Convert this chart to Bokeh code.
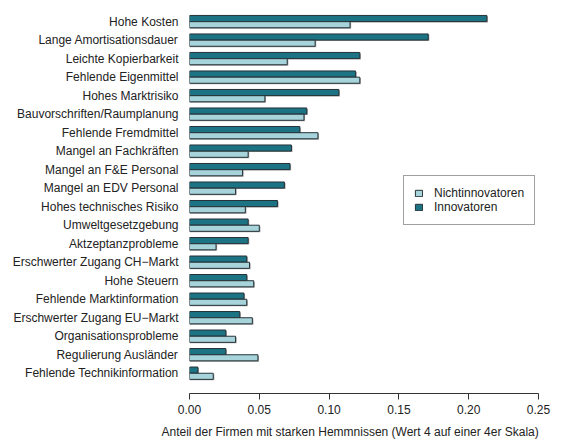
from bokeh.plotting import figure
from bokeh.models import (ColumnDataSource, Range1d, FixedTicker, NumeralTickFormatter,
                          Legend, LegendItem, Title)
from bokeh.transform import dodge
from bokeh.embed import file_html
from bokeh.resources import INLINE

categories = [
    "Hohe Kosten", "Lange Amortisationsdauer", "Leichte Kopierbarkeit",
    "Fehlende Eigenmittel", "Hohes Marktrisiko", "Bauvorschriften/Raumplanung",
    "Fehlende Fremdmittel", "Mangel an Fachkräften", "Mangel an F&E Personal",
    "Mangel an EDV Personal", "Hohes technisches Risiko", "Umweltgesetzgebung",
    "Aktzeptanzprobleme", "Erschwerter Zugang CH\u2212Markt", "Hohe Steuern",
    "Fehlende Marktinformation", "Erschwerter Zugang EU\u2212Markt",
    "Organisationsprobleme", "Regulierung Ausländer", "Fehlende Technikinformation",
]
innovatoren = [0.213, 0.171, 0.122, 0.119, 0.107, 0.084, 0.079, 0.073, 0.072, 0.068,
               0.063, 0.042, 0.042, 0.041, 0.041, 0.039, 0.036, 0.026, 0.026, 0.006]
nichtinnovatoren = [0.115, 0.090, 0.070, 0.122, 0.054, 0.082, 0.092, 0.042, 0.038, 0.033,
                    0.040, 0.050, 0.019, 0.043, 0.046, 0.041, 0.045, 0.033, 0.049, 0.017]
x_ticks = [0.0, 0.05, 0.10, 0.15, 0.20, 0.25]
x_title = "Anteil der Firmen mit starken Hemmnissen (Wert 4 auf einer 4er Skala)"

n = len(categories)
ypos = list(range(n - 1, -1, -1))
shadow = 0.0008
src = ColumnDataSource(dict(
    y=ypos, innov=innovatoren, nicht=nichtinnovatoren,
    innov_s=[v + shadow for v in innovatoren],
    nicht_s=[v + shadow for v in nichtinnovatoren],
))

DARK = "#1b7384"
LIGHT = "#a7d4da"
TEXT = "#222222"
FONT = "Arial"

p = figure(width=565, height=445, output_backend="svg", toolbar_location=None,
           x_range=Range1d(0, 0.25), y_range=Range1d(-1.097, n - 1 + 0.6),
           min_border_left=189, min_border_right=27, min_border_top=10, min_border_bottom=20)
p.outline_line_color = None
p.grid.visible = False
p.background_fill_color = "white"

bh = 0.33
off = 0.168
# shadows
p.hbar(y=dodge("y", off - 0.05, range=p.y_range), left=0, right="innov_s", height=bh,
       source=src, fill_color="#8c8c8c", line_color=None, fill_alpha=0.8)
p.hbar(y=dodge("y", -off - 0.05, range=p.y_range), left=0, right="nicht_s", height=bh,
       source=src, fill_color="#8c8c8c", line_color=None, fill_alpha=0.8)
r_in = p.hbar(y=dodge("y", off, range=p.y_range), left=0, right="innov", height=bh,
              source=src, fill_color=DARK, line_color="#263238", line_width=1)
r_ni = p.hbar(y=dodge("y", -off, range=p.y_range), left=0, right="nicht", height=bh,
              source=src, fill_color=LIGHT, line_color="#263238", line_width=1)

# x axis
xa = p.xaxis[0]
xa.ticker = FixedTicker(ticks=x_ticks)
xa.formatter = NumeralTickFormatter(format="0.00")
xa.bounds = (0, 0.25)
xa.minor_tick_line_color = None
xa.major_tick_in = 0
xa.major_tick_out = 6
xa.axis_line_color = "#333333"
xa.major_tick_line_color = "#333333"
xa.major_label_standoff = 5
xa.major_label_text_font = FONT
xa.major_label_text_font_size = "12px"
xa.major_label_text_color = TEXT

title = Title(text=x_title, align="left", offset=-28, standoff=13,
              text_font=FONT, text_font_size="12px", text_font_style="normal",
              text_color=TEXT)
p.add_layout(title, "below")

# y axis
ya = p.yaxis[0]
ya.ticker = FixedTicker(ticks=ypos)
ya.major_label_overrides = {y: c for y, c in zip(ypos, categories)}
ya.axis_line_color = None
ya.major_tick_line_color = None
ya.minor_tick_line_color = None
ya.major_tick_out = 0
ya.major_tick_in = 0
ya.major_label_standoff = 11
ya.major_label_text_font = FONT
ya.major_label_text_font_size = "12px"
ya.major_label_text_color = TEXT

legend = Legend(items=[LegendItem(label="Nichtinnovatoren", renderers=[r_ni]),
                       LegendItem(label="Innovatoren", renderers=[r_in])],
                location=(214, 168))
legend.border_line_color = "#444444"
legend.border_line_width = 1
legend.background_fill_color = "white"
legend.background_fill_alpha = 1
legend.padding = 10
legend.spacing = 0
legend.margin = 0
legend.glyph_width = 9
legend.glyph_height = 8
legend.label_standoff = 11
legend.label_height = 14
legend.label_text_font = FONT
legend.label_text_font_size = "12px"
legend.label_text_color = TEXT
p.add_layout(legend, "center")

open("out.html", "w").write(file_html(p, INLINE))
